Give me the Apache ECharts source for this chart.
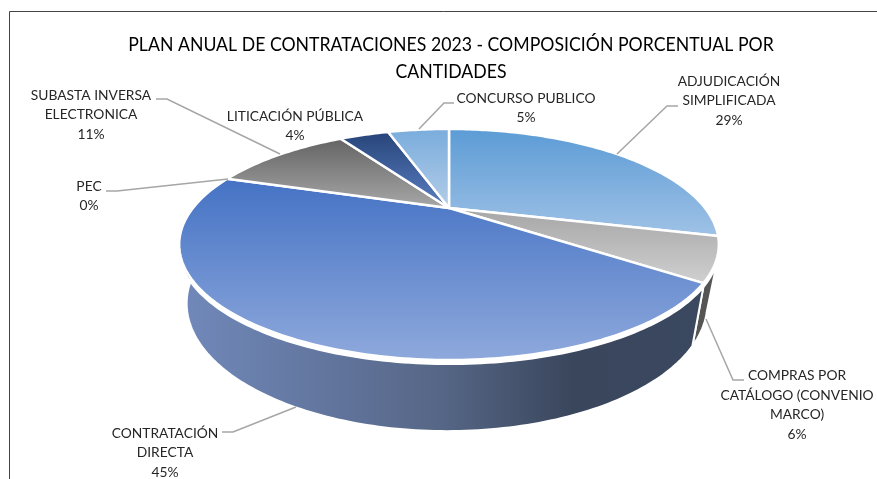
<!DOCTYPE html>
<html>
<head>
<meta charset="utf-8">
<style>
  html, body { margin: 0; padding: 0; background: #fff; }
  #chart { width: 877px; height: 479px; }
</style>
<script src="https://cdn.jsdelivr.net/npm/echarts@6/dist/echarts.min.js"></script>
</head>
<body>
<div id="chart"></div>
<script>
const categories = [
  'ADJUDICACIÓN\nSIMPLIFICADA',
  'COMPRAS POR\nCATÁLOGO (CONVENIO\nMARCO)',
  'CONTRATACIÓN\nDIRECTA',
  'PEC',
  'SUBASTA INVERSA\nELECTRONICA',
  'LITICACIÓN PÚBLICA',
  'CONCURSO PUBLICO'
];
const values = [29, 6, 45, 0, 11, 4, 5];
const titleText = 'PLAN ANUAL DE CONTRATACIONES 2023 - COMPOSICIÓN PORCENTUAL POR\nCANTIDADES';

// top face gradients, one per slice
const topColors = [
  ['#5B9BD5', '#A0C2E6'],
  ['#A5A5A5', '#D0D0D0'],
  ['#4472C4', '#8FA9DC'],
  ['#7F7F7F', '#7F7F7F'],
  ['#636363', '#A8A8A8'],
  ['#264478', '#5B7FC4'],
  ['#79ACDC', '#B4CDE8']
];

// label centre and leader line per slice
const labelPos = [[729, 101], [797, 405], [165, 453], [89, 196], [91, 115], [295, 126], [526, 108]];
const leaders = [
  [[617, 154], [667, 106], [678, 106]],
  [[706, 319], [733, 380], [744, 380]],
  [[296, 407], [233, 432], [222, 432]],
  [[228, 179], [117, 191], [106, 191]],
  [[280, 154], [167, 99], [156, 99]],
  null,
  [[419, 129], [444, 103], [454, 103]]
];

// perspective of the disc: top plane, rim start and bottom plane
const topPlane = { x: 449, y: 208, a: 256, b: 104 };
const rimPlane = { x: 449, y: 212, a: 256, b: 104 };
const bottomPlane = { x: 447, y: 263, a: 247, b: 115 };
const persp = 0.316;

const total = values.reduce(function (s, v) { return s + v; }, 0);
const starts = [];
values.reduce(function (s, v, i) { starts[i] = s; return s + v; }, 0);

function project(plane, deg) {
  const t = deg * Math.PI / 180;
  const u = Math.sin(t);
  const v = Math.cos(t);
  const d = 1 + persp * v;
  return [plane.x + plane.a * u / d, plane.y - plane.b * v / d];
}

function arc(plane, from, to) {
  const pts = [];
  const n = Math.max(2, Math.ceil(Math.abs(to - from)));
  for (let i = 0; i <= n; i++) {
    pts.push(project(plane, from + (to - from) * i / n));
  }
  return pts;
}

function sidePolygon(from, to, fill, z) {
  return {
    type: 'polygon',
    z2: z,
    shape: { points: arc(rimPlane, from, to).concat(arc(bottomPlane, to, from)) },
    style: { fill: fill, stroke: '#fff', lineWidth: 2 }
  };
}

function renderSlice(params, api) {
  const i = params.dataIndex;
  const value = api.value(0);
  const from = starts[i] / total * 360;
  const to = (starts[i] + value) / total * 360;
  const children = [];

  if (i === 1) {
    children.push(sidePolygon(to, 112, '#555555', 1));
  }
  if (i === 2) {
    children.push(sidePolygon(from, 262, {
      type: 'linear', x: 0, y: 0, x2: 1, y2: 0,
      colorStops: [
        { offset: 0, color: '#7189BB' },
        { offset: 0.5, color: '#566686' },
        { offset: 0.75, color: '#3A465C' },
        { offset: 1, color: '#3A4860' }
      ]
    }, 1));
  }
  if (value > 0) {
    children.push({
      type: 'polygon',
      z2: 5,
      shape: { points: [[topPlane.x, topPlane.y]].concat(arc(topPlane, from, to)) },
      style: {
        fill: {
          type: 'linear', x: 0, y: 0, x2: 0, y2: 1,
          colorStops: [
            { offset: 0, color: topColors[i][0] },
            { offset: 1, color: topColors[i][1] }
          ]
        },
        stroke: '#fff',
        lineWidth: 2.5,
        lineJoin: 'round'
      }
    });
  }
  if (leaders[i]) {
    children.push({
      type: 'polyline',
      z2: 8,
      shape: { points: leaders[i] },
      style: { fill: null, stroke: '#A6A6A6', lineWidth: 1.5 }
    });
  }
  children.push({
    type: 'text',
    z2: 10,
    x: labelPos[i][0],
    y: labelPos[i][1],
    style: {
      text: categories[i] + '\n' + value + '%',
      align: 'center',
      verticalAlign: 'middle',
      lineHeight: 19.5,
      font: '13.8px Lato',
      fill: '#262626'
    }
  });
  return { type: 'group', children: children };
}

const chart = echarts.init(document.getElementById('chart'), null, { renderer: 'canvas' });
chart.setOption({
  animation: false,
  backgroundColor: '#fff',
  graphic: [
    { type: 'line', shape: { x1: 9.5, y1: 11.5, x2: 877, y2: 11.5 }, style: { stroke: '#444', lineWidth: 1 } },
    { type: 'line', shape: { x1: 9.5, y1: 11.5, x2: 9.5, y2: 479 }, style: { stroke: '#444', lineWidth: 1 } },
    {
      type: 'text',
      x: 451,
      y: 58,
      scaleX: 0.884,
      style: {
        text: titleText,
        align: 'center',
        verticalAlign: 'middle',
        lineHeight: 27,
        font: '20px Lato',
        fill: '#000'
      }
    }
  ],
  series: [{
    type: 'custom',
    coordinateSystem: 'none',
    renderItem: renderSlice,
    data: values.map(function (v) { return [v]; })
  }]
});
</script>
</body>
</html>
